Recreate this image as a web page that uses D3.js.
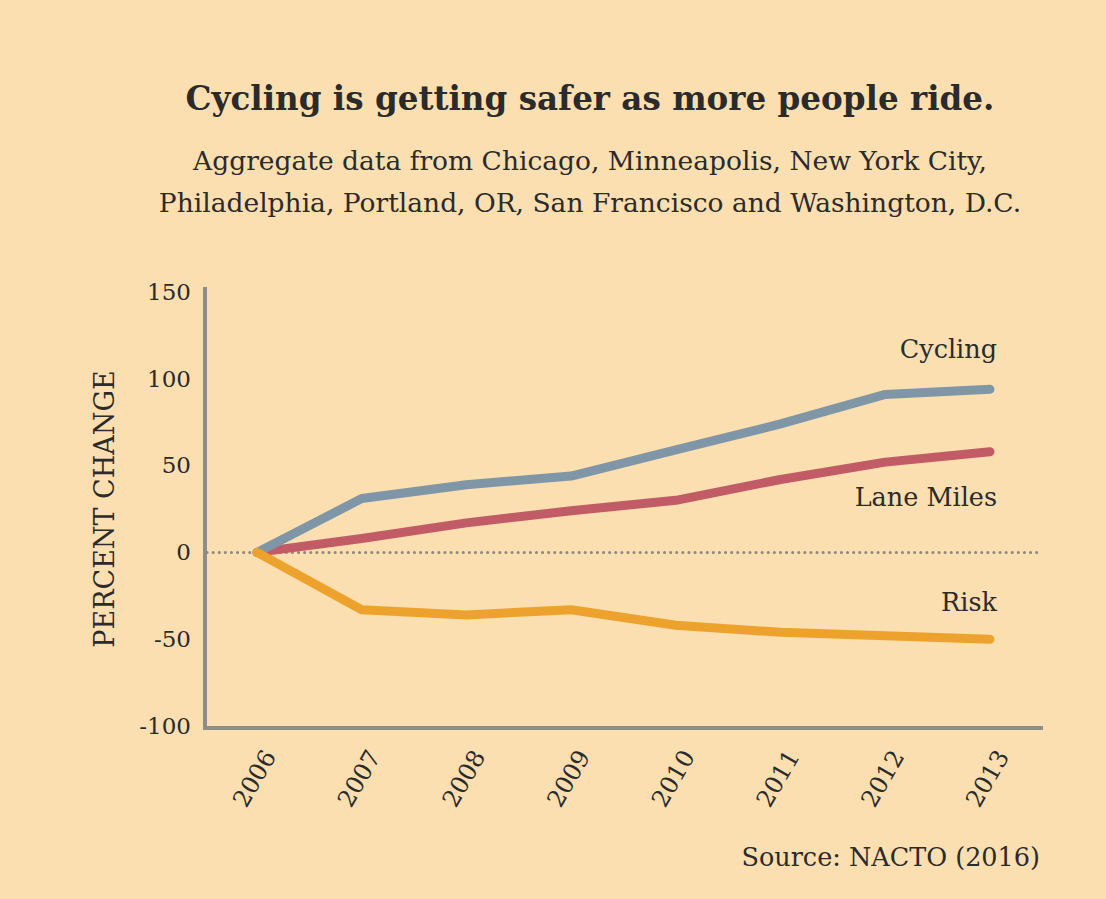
<!DOCTYPE html>
<html>
<head>
<meta charset="utf-8">
<script src="https://cdn.jsdelivr.net/npm/d3@7"></script>
<style>
  body { margin: 0; background: #fbdfb1; }
  svg text { fill: #2b2b2b; }
</style>
</head>
<body>
<div id="chart"></div>
<script>
// values
var years = [2006, 2007, 2008, 2009, 2010, 2011, 2012, 2013];
var cycling = [0, 31, 39, 44, 59, 74, 91, 94];
var laneMiles = [0, 8, 17, 24, 30, 42, 52, 58];
var risk = [0, -33, -36, -33, -42, -46, -48, -50];
var yTicks = [150, 100, 50, 0, -50, -100];

var series = [
    { name: "Lane Miles", values: laneMiles, color: "#c15b65", labelY: 27 },
    { name: "Cycling", values: cycling, color: "#7f96a7", labelY: 112 },
    { name: "Risk", values: risk, color: "#eea22e", labelY: -34 }
];

var width = 1106, height = 899;
var font = "'DejaVu Serif', 'Liberation Serif', serif";

var svg = d3.select("#chart")
    .append("svg")
    .attr("width", width)
    .attr("height", height)
    .style("font-family", font);

svg.append("rect")
    .attr("width", width)
    .attr("height", height)
    .attr("fill", "#fbdfb1");

var x = d3.scalePoint()
    .domain(years)
    .range([257, 990]);

var y = d3.scaleLinear()
    .domain([-100, 150])
    .range([726, 292]);

// title + subtitle
svg.append("text")
    .attr("x", 590).attr("y", 110)
    .attr("text-anchor", "middle")
    .style("font-size", "32.6px")
    .style("font-weight", "bold")
    .text("Cycling is getting safer as more people ride.");

svg.append("text")
    .attr("x", 590).attr("y", 170)
    .attr("text-anchor", "middle")
    .style("font-size", "26.5px")
    .text("Aggregate data from Chicago, Minneapolis, New York City,");
svg.append("text")
    .attr("x", 590).attr("y", 212)
    .attr("text-anchor", "middle")
    .style("font-size", "26.5px")
    .text("Philadelphia, Portland, OR, San Francisco and Washington, D.C.");

// y axis
var yAxis = svg.append("g")
    .attr("transform", "translate(205,0)")
    .call(d3.axisLeft(y).tickValues(yTicks).tickSize(0).tickPadding(14)
        .tickFormat(d => d < 0 ? "-" + Math.abs(d) : d));
yAxis.select(".domain").remove();
yAxis.selectAll("text")
    .style("font-size", "23px")
    .style("font-family", font)
    .attr("fill", "#2b2b2b");

// x axis
var xAxis = svg.append("g")
    .attr("transform", "translate(0,728)")
    .call(d3.axisBottom(x).tickSize(0).tickPadding(0));
xAxis.select(".domain").remove();
xAxis.selectAll("text")
    .style("font-size", "24px")
    .style("font-family", font)
    .attr("fill", "#2b2b2b")
    .attr("text-anchor", "end")
    .attr("transform", "translate(12,24) rotate(-60)")
    .attr("dy", "0.35em")
    .attr("y", 0);

// axis lines
svg.append("line")
    .attr("x1", 205).attr("x2", 205)
    .attr("y1", 287).attr("y2", 730)
    .attr("stroke", "#8e8e88").attr("stroke-width", 4);
svg.append("line")
    .attr("x1", 203).attr("x2", 1043)
    .attr("y1", 728).attr("y2", 728)
    .attr("stroke", "#8e8e88").attr("stroke-width", 4);

// zero line
svg.append("line")
    .attr("x1", 207).attr("x2", 1040)
    .attr("y1", y(0)).attr("y2", y(0))
    .attr("stroke", "#8e8a7e")
    .attr("stroke-width", 3)
    .attr("stroke-linecap", "round")
    .attr("stroke-dasharray", "0.1,6");

// y label
svg.append("text")
    .attr("transform", "translate(114," + y(25) + ") rotate(-90)")
    .attr("text-anchor", "middle")
    .style("font-size", "27px")
    .text("PERCENT CHANGE");

var line = d3.line()
    .x((d, i) => x(years[i]))
    .y(d => y(d));

svg.selectAll(".series")
    .data(series)
    .enter()
    .append("path")
    .attr("d", d => line(d.values))
    .attr("fill", "none")
    .attr("stroke", d => d.color)
    .attr("stroke-width", 9)
    .attr("stroke-linecap", "round")
    .attr("stroke-linejoin", "round");

svg.selectAll(".label")
    .data(series)
    .enter()
    .append("text")
    .attr("x", 997)
    .attr("y", d => y(d.labelY))
    .attr("text-anchor", "end")
    .style("font-size", "25.5px")
    .text(d => d.name);

// source
svg.append("text")
    .attr("x", 1040).attr("y", 866)
    .attr("text-anchor", "end")
    .style("font-size", "25.5px")
    .text("Source: NACTO (2016)");
</script>
</body>
</html>
